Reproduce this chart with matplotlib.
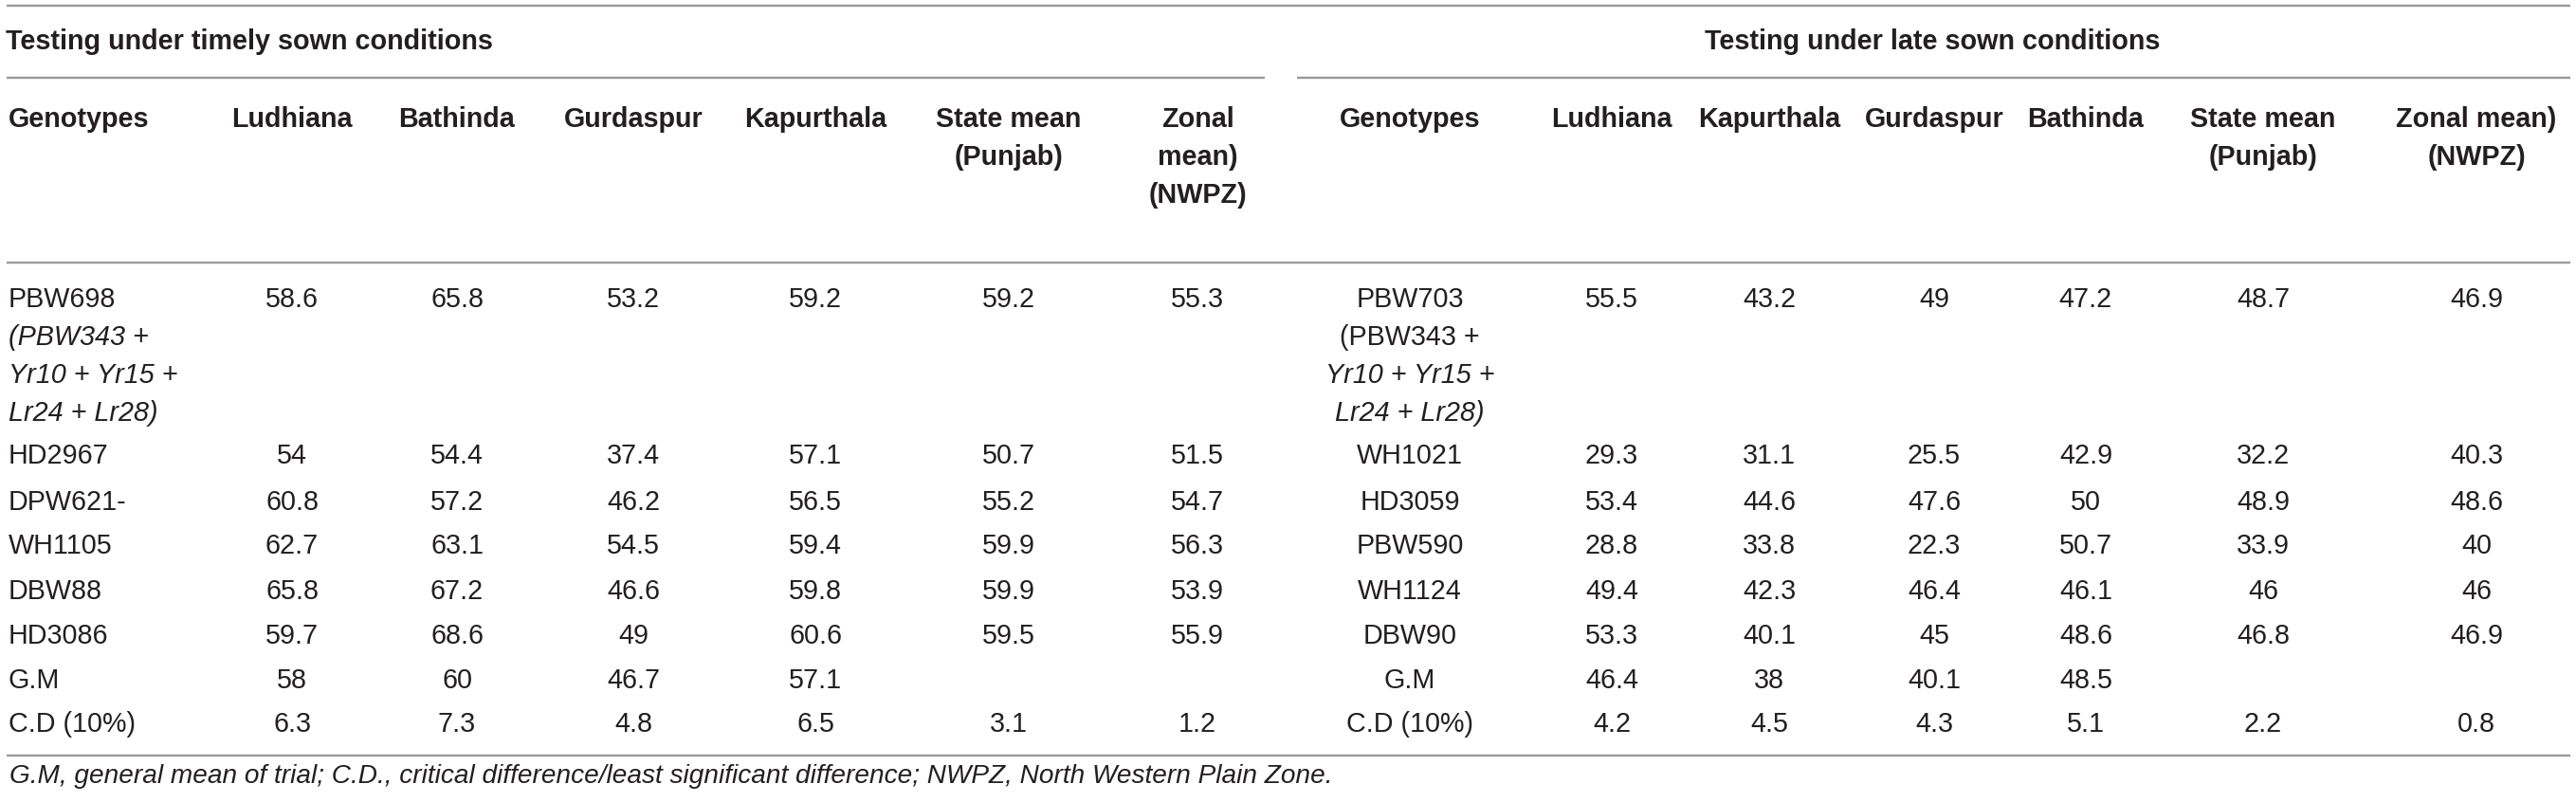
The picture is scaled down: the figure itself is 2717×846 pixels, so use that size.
import matplotlib
matplotlib.use("Agg")
import matplotlib.pyplot as plt

# ---------------- data ----------------
timely_title = "Testing under timely sown conditions"
late_title = "Testing under late sown conditions"

timely_headers = ["Genotypes", "Ludhiana", "Bathinda", "Gurdaspur", "Kapurthala",
                  "State mean\n(Punjab)", "Zonal\nmean)\n(NWPZ)"]
late_headers = ["Genotypes", "Ludhiana", "Kapurthala", "Gurdaspur", "Bathinda",
                "State mean\n(Punjab)", "Zonal mean)\n(NWPZ)"]

# genotype cells: list of (text, italic) lines
timely_genotypes = [
    [("PBW698", False), ("(PBW343 +", True), ("Yr10 + Yr15 +", True), ("Lr24 + Lr28)", True)],
    [("HD2967", False)], [("DPW621-", False)], [("WH1105", False)], [("DBW88", False)],
    [("HD3086", False)], [("G.M", False)], [("C.D (10%)", False)],
]
late_genotypes = [
    [("PBW703", False), ("(PBW343 +", False), ("Yr10 + Yr15 +", True), ("Lr24 + Lr28)", True)],
    [("WH1021", False)], [("HD3059", False)], [("PBW590", False)], [("WH1124", False)],
    [("DBW90", False)], [("G.M", False)], [("C.D (10%)", False)],
]

t_ludhiana = ["58.6", "54", "60.8", "62.7", "65.8", "59.7", "58", "6.3"]
t_bathinda = ["65.8", "54.4", "57.2", "63.1", "67.2", "68.6", "60", "7.3"]
t_gurdaspur = ["53.2", "37.4", "46.2", "54.5", "46.6", "49", "46.7", "4.8"]
t_kapurthala = ["59.2", "57.1", "56.5", "59.4", "59.8", "60.6", "57.1", "6.5"]
t_state = ["59.2", "50.7", "55.2", "59.9", "59.9", "59.5", "", "3.1"]
t_zonal = ["55.3", "51.5", "54.7", "56.3", "53.9", "55.9", "", "1.2"]

l_ludhiana = ["55.5", "29.3", "53.4", "28.8", "49.4", "53.3", "46.4", "4.2"]
l_kapurthala = ["43.2", "31.1", "44.6", "33.8", "42.3", "40.1", "38", "4.5"]
l_gurdaspur = ["49", "25.5", "47.6", "22.3", "46.4", "45", "40.1", "4.3"]
l_bathinda = ["47.2", "42.9", "50", "50.7", "46.1", "48.6", "48.5", "5.1"]
l_state = ["48.7", "32.2", "48.9", "33.9", "46", "46.8", "", "2.2"]
l_zonal = ["46.9", "40.3", "48.6", "40", "46", "46.9", "", "0.8"]

footnote = ("G.M, general mean of trial; C.D., critical difference/least significant "
            "difference; NWPZ, North Western Plain Zone.")

# ---------------- layout (pixels) ----------------
W, H = 2717, 846
FONT = "Liberation Sans"
FS = 20.7
FS_NOTE = 20.2
TXT = "#231f20"
LINE = "#9a9a9a"

timely_x = [9, 308, 482, 668, 860, 1064, 1263]
late_x = [1487, 1700, 1866, 2040, 2200, 2387, 2612]
title_y = 44.5
header_y = 126
line_gap = 40
row_y = [316.5, 481, 529.5, 576, 624, 671, 718, 764.5]
note_y = 819

fig = plt.figure(figsize=(W / 100, H / 100), dpi=100)
ax = fig.add_axes([0, 0, 1, 1])
ax.set_xlim(0, W)
ax.set_ylim(H, 0)
ax.axis("off")


def hline(y, x0, x1):
    ax.plot([x0, x1], [y, y], color=LINE, lw=1.7, solid_capstyle="butt")


hline(6, 7, 2711)
hline(82, 7, 1334)
hline(82, 1368, 2711)
hline(277, 7, 2711)
hline(797, 7, 2711)

ax.text(6, title_y, timely_title, fontsize=FS, fontweight="bold", family=FONT,
        color=TXT, ha="left", va="center")
ax.text(2038, title_y, late_title, fontsize=FS, fontweight="bold", family=FONT,
        color=TXT, ha="center", va="center")


def header(xs, headers, first_left):
    for i, (x, h) in enumerate(zip(xs, headers)):
        ha = "left" if (i == 0 and first_left) else "center"
        for k, line in enumerate(h.split("\n")):
            ax.text(x, header_y + k * line_gap, line, fontsize=FS, fontweight="bold",
                    family=FONT, color=TXT, ha=ha, va="center")


header(timely_x, timely_headers, True)
header(late_x, late_headers, False)


def body(xs, genos, cols, geno_ha):
    for r, y in enumerate(row_y):
        for k, (txt, it) in enumerate(genos[r]):
            ax.text(xs[0], y + k * line_gap, txt, fontsize=FS, family=FONT,
                    style="italic" if it else "normal", color=TXT,
                    ha=geno_ha, va="center")
        for x, col in zip(xs[1:], cols):
            if col[r]:
                ax.text(x, y, col[r], fontsize=FS, family=FONT, color=TXT,
                        ha="center", va="center")


body(timely_x, timely_genotypes,
     [t_ludhiana, t_bathinda, t_gurdaspur, t_kapurthala, t_state, t_zonal], "left")
body(late_x, late_genotypes,
     [l_ludhiana, l_kapurthala, l_gurdaspur, l_bathinda, l_state, l_zonal], "center")

ax.text(10, note_y, footnote, fontsize=FS_NOTE, family=FONT, style="italic", color=TXT,
        ha="left", va="center")

fig.savefig("out.png", dpi=100, facecolor="white")
